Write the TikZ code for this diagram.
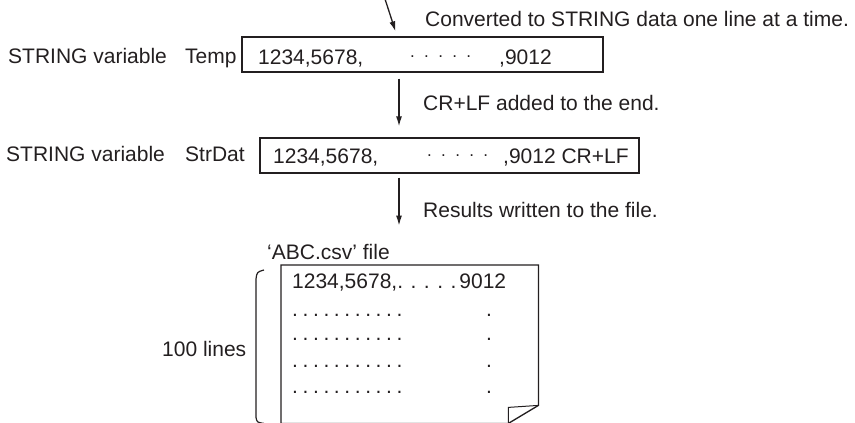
\documentclass[tikz,border=0pt]{standalone}
\usepackage{fontspec}
\setmainfont{Liberation Sans}
\usepackage{xcolor}
\usetikzlibrary{arrows.meta,calc}

\definecolor{ink}{RGB}{35,31,32}
\tikzset{
    txt/.style={inner sep=0pt, anchor=base west, text=ink, font=\fontsize{21}{25}\selectfont},
    varbox/.style={draw=ink, line width=1.3pt, inner sep=0pt},
    flow/.style={draw=ink, line width=1.3pt, -{Latex[length=10pt,width=6pt]}},
}
\newcommand{\midpts}{\raisebox{7pt}{\fontsize{17}{20}\selectfont.\hspace{9.3pt}.\hspace{9.3pt}.\hspace{9.3pt}.\hspace{9.3pt}.}}

\begin{document}
\begin{tikzpicture}[x=1pt,y=-1pt]
    \useasboundingbox (0,0) rectangle (855,423);
    \coordinate (feed) at (385,-1);
    \coordinate (ax) at (399,0);
    \node[txt] (conv) at (425,26) {Converted to STRING data one line at a time.};

    \node[txt] (tempvar) at (8,63) {STRING variable};
    \node[txt] (tempname) at (185,63) {Temp};
    \node[varbox, minimum width=361pt, minimum height=35pt] (tempbox) at (422.5,54.5) {};
    \node[txt] (tempA) at (258,64) {1234,5678,};
    \node[txt] (tempB) at (410,64) {\midpts};
    \node[txt] (tempC) at (499,64) {,9012};
    \draw[flow] (feed) -- ($(tempbox.north)+(-27,-5)$);

    \node[txt] (crlf) at (423,110) {CR+LF added to the end.};

    \node[txt] (strvar) at (6,161) {STRING variable};
    \node[txt] (strname) at (185,161) {StrDat};
    \node[varbox, minimum width=379pt, minimum height=35pt] (strbox) at (449.5,155.5) {};
    \node[txt] (strA) at (273,163) {1234,5678,};
    \node[txt] (strB) at (427,163) {\midpts};
    \node[txt] (strC) at (503,163) {,9012 CR+LF};
    \draw[flow] ($(tempbox.south -| ax)+(0,6)$) -- ($(strbox.north -| ax)+(0,-11)$);

    \node[txt] (res) at (423,217) {Results written to the file.};
    \node[txt] (csv) at (267,259) {‘ABC.csv’ file};
    \node[inner sep=0pt, minimum width=257pt, minimum height=158pt, anchor=north west] (csvfile) at (281,265) {};
    \draw[flow] ($(strbox.south -| ax)+(0,4)$) -- ($(csv.north -| ax)+(0,-18)$);

    \draw[varbox] (csvfile.south west) -- (csvfile.north west) -- (csvfile.north east)
        -- ($(csvfile.south east)+(0,-18)$) -- ($(csvfile.south east)+(-30,0)$) -- (csvfile.south west);
    \draw[ink, line width=1pt] ($(csvfile.south east)+(-30,0)$) -- ($(csvfile.south east)+(-30,-16)$)
        -- ($(csvfile.south east)+(0,-18)$);

    \node[txt] (row0) at (292,288) {1234,5678,.\hspace{7.5pt}.\hspace{7.5pt}.\hspace{7.5pt}.\hspace{7.5pt}.\hspace{3pt}9012};
    \foreach \y [count=\i] in {313,337,364,390} {
        \node[txt] (rowA\i) at (292,\y+3) {.\hspace{4.6pt}.\hspace{4.6pt}.\hspace{4.6pt}.\hspace{4.6pt}.\hspace{4.6pt}.\hspace{4.6pt}.\hspace{4.6pt}.\hspace{4.6pt}.\hspace{4.6pt}.\hspace{4.6pt}.};
        \node[txt] (rowB\i) at (486,\y+3) {.};
    }

    \draw[ink, line width=1.2pt] ($(csvfile.north west)+(-17,5)$) .. controls ($(csvfile.north west)+(-24,7)$) .. ($(csvfile.north west)+(-25,14)$)
        -- ($(csvfile.south west)+(-25,-6)$) .. controls ($(csvfile.south west)+(-24,-1)$) .. ($(csvfile.south west)+(-17,0)$);
    \node[txt] (lines) at (162,356) {100 lines};
\end{tikzpicture}
\end{document}
